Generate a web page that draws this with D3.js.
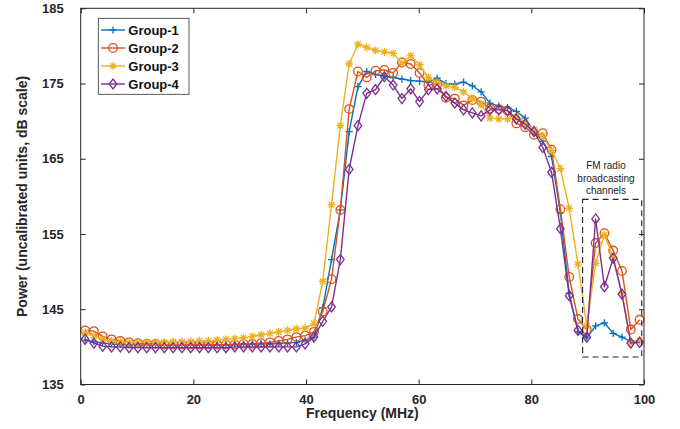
<!DOCTYPE html>
<html>
<head>
<meta charset="utf-8">
<script src="https://cdn.jsdelivr.net/npm/d3@7"></script>
<style>
    body { margin: 0; background: #fff; }
    .test_component { width: 680px; height: 429px; }
    text { font-family: "Liberation Sans", Arial, sans-serif; }
</style>
</head>
<body>
<div class="test_component"></div>
<script>
//<data>--------------------------------------//
var freq = [
    0.78, 2.34, 3.91, 5.47, 7.03, 8.59, 10.16, 11.72, 13.28, 14.84,
    16.41, 17.97, 19.53, 21.09, 22.66, 24.22, 25.78, 27.34, 28.91, 30.47,
    32.03, 33.59, 35.16, 36.72, 38.28, 39.84, 41.41, 42.97, 44.53, 46.09,
    47.66, 49.22, 50.78, 52.34, 53.91, 55.47, 57.03, 58.59, 60.16, 61.72,
    63.28, 64.84, 66.41, 67.97, 69.53, 71.09, 72.66, 74.22, 75.78, 77.34,
    78.91, 80.47, 82.03, 83.59, 85.16, 86.72, 88.28, 89.84, 91.41, 92.97,
    94.53, 96.09, 97.66, 99.22
];
var group1 = [
    140.9, 140.7, 140.5, 140.4, 140.3, 140.3, 140.3, 140.3, 140.3, 140.3,
    140.3, 140.3, 140.3, 140.3, 140.3, 140.3, 140.3, 140.3, 140.4, 140.4,
    140.4, 140.4, 140.5, 140.5, 140.6, 140.9, 141.3, 145.2, 151.6, 158.2,
    168.6, 174.6, 176.6, 176.2, 176.0, 175.8, 175.6, 175.4, 175.3, 175.2,
    175.7, 175.0, 174.9, 175.2, 174.7, 173.9, 172.4, 172.0, 171.8, 171.3,
    170.4, 168.6, 167.3, 165.3, 157.8, 147.1, 142.0, 141.2, 142.8, 143.2,
    141.8, 141.3, 140.7, 140.8
];
var group2 = [
    142.2, 142.1, 141.4, 141.0, 140.8, 140.6, 140.5, 140.4, 140.4, 140.3,
    140.3, 140.3, 140.3, 140.3, 140.3, 140.3, 140.3, 140.3, 140.4, 140.4,
    140.5, 140.6, 140.8, 141.0, 141.3, 141.5, 142.0, 144.7, 149.0, 158.2,
    171.6, 176.6, 175.8, 176.7, 176.8, 176.4, 177.8, 177.6, 176.4, 174.8,
    174.9, 173.1, 173.0, 172.1, 172.8, 172.6, 171.7, 171.6, 171.4, 169.7,
    169.2, 168.2, 168.4, 166.2, 158.3, 149.3, 143.7, 142.3, 153.8, 155.1,
    152.8, 150.1, 142.3, 143.6
];
var group3 = [
    141.9, 141.5, 141.0, 140.8, 140.7, 140.6, 140.6, 140.6, 140.6, 140.6,
    140.7, 140.7, 140.7, 140.8, 140.8, 140.9, 141.0, 141.1, 141.2, 141.4,
    141.6, 141.8, 142.0, 142.2, 142.4, 142.5, 143.1, 148.7, 158.9, 169.4,
    177.6, 180.2, 179.8, 179.4, 179.2, 179.0, 177.7, 178.7, 177.5, 175.8,
    175.2, 174.7, 174.5, 173.9, 173.0, 172.2, 170.4, 170.3, 170.3, 170.6,
    169.8, 168.9, 168.0, 166.1, 163.7, 158.4, 151.0, 142.8, 151.1, 154.9,
    151.9, 147.1, 140.5, 140.9
];
var group4 = [
    141.0, 140.5, 140.1, 140.0, 140.0, 139.9, 139.9, 139.9, 139.9, 139.9,
    139.9, 139.9, 139.9, 139.9, 139.9, 139.9, 139.9, 140.0, 140.0, 140.0,
    140.0, 140.0, 140.0, 140.0, 140.0, 140.4, 141.3, 143.4, 145.3, 151.6,
    163.6, 169.4, 173.7, 174.2, 175.9, 174.8, 173.0, 174.3, 172.6, 174.2,
    174.3, 173.3, 172.4, 171.5, 171.1, 170.7, 171.5, 171.5, 171.4, 170.3,
    169.6, 168.6, 166.5, 163.2, 155.7, 146.8, 142.2, 141.3, 157.0, 148.0,
    151.8, 147.0, 140.5, 140.6
];
var seriesNames = ["Group-1", "Group-2", "Group-3", "Group-4"];
var xTicks = [0, 20, 40, 60, 80, 100];
var yTicks = [135, 145, 155, 165, 175, 185];
var fmBox = { x0: 89.1, x1: 99.6, y0: 138.65, y1: 159.6 };
var fmLabel = ["FM radio", "broadcasting", "channels"];

var colorPalettes = ['#0072BD', '#D95319', '#EDB120', '#7E2F8E'];
var markerTypes = ['plus', 'circle', 'star', 'diamond'];

//<setMargin>-------------------------------//
var W = 680, H = 429;
var margin = { top: 8.3, right: 36, bottom: 44.5, left: 80.7 };
var width = W - margin.left - margin.right,
    height = H - margin.top - margin.bottom;

var svg = d3.select(".test_component").append("svg")
    .attr("width", W).attr("height", H);

var x = d3.scaleLinear().domain([0, 100]).range([margin.left, margin.left + width]);
var y = d3.scaleLinear().domain([135, 185]).range([margin.top + height, margin.top]);

//<markers>----------------------------------//
function markerPath(type) {
    if (type == 'plus') return "M-3.6,0H3.6M0,-3.6V3.6";
    if (type == 'star') return "M-4,0H4M0,-4V4M-2.9,-2.9L2.9,2.9M-2.9,2.9L2.9,-2.9";
    if (type == 'diamond') return "M0,-5L3.8,0L0,5L-3.8,0Z";
    return "M4.3,0A4.3,4.3 0 1,1 -4.3,0A4.3,4.3 0 1,1 4.3,0Z";
}

//<drawSeries>-------------------------------//
var allSeries = [group1, group2, group3, group4];
var line = d3.line()
    .x(function (d) { return x(d[0]); })
    .y(function (d) { return y(d[1]); });

var plotG = svg.append("g").attr("id", "plot");
allSeries.forEach(function (vals, i) {
    var pts = freq.map(function (f, k) { return [f, vals[k]]; });
    var g = plotG.append("g");
    g.append("path").datum(pts)
        .attr("d", line)
        .attr("fill", "none")
        .attr("stroke", colorPalettes[i])
        .attr("stroke-width", 1.4)
        .attr("stroke-linejoin", "round");
    g.selectAll(".mk").data(pts).enter()
        .append("path")
        .attr("transform", function (d) { return "translate(" + x(d[0]) + "," + y(d[1]) + ")"; })
        .attr("d", markerPath(markerTypes[i]))
        .attr("fill", "none")
        .attr("stroke", colorPalettes[i])
        .attr("stroke-width", 1.3);
});

//<fmBox>-------------------------------------//
svg.append("rect")
    .attr("x", x(fmBox.x0)).attr("y", y(fmBox.y1))
    .attr("width", x(fmBox.x1) - x(fmBox.x0))
    .attr("height", y(fmBox.y0) - y(fmBox.y1))
    .attr("fill", "none")
    .attr("stroke", "#222")
    .attr("stroke-width", 1.1)
    .attr("stroke-dasharray", "6,4");

svg.append("g").selectAll("text").data(fmLabel).enter()
    .append("text")
    .attr("x", 606)
    .attr("y", function (d, i) { return 169 + i * 12.5; })
    .attr("text-anchor", "middle")
    .style("font-size", "10px")
    .attr("fill", "#222")
    .text(function (d) { return d; });

//<axes>--------------------------------------//
var axisColor = "#262626";
function styleAxis(sel) {
    sel.select(".domain").remove();
    sel.selectAll("line").attr("stroke", axisColor);
    sel.selectAll("text").attr("fill", axisColor)
        .style("font-size", "13px").style("font-weight", "bold")
        .style("font-family", "'Liberation Sans', Arial, sans-serif");
}
var gx = svg.append("g").attr("transform", "translate(0," + (margin.top + height) + ")")
    .call(d3.axisBottom(x).tickValues(xTicks).tickSizeInner(-5).tickSizeOuter(0).tickPadding(10));
styleAxis(gx);
var gxTop = svg.append("g").attr("transform", "translate(0," + margin.top + ")")
    .call(d3.axisTop(x).tickValues(xTicks).tickSizeInner(-5).tickSizeOuter(0).tickFormat(""));
styleAxis(gxTop);
var gy = svg.append("g").attr("transform", "translate(" + margin.left + ",0)")
    .call(d3.axisLeft(y).tickValues(yTicks).tickSizeInner(-5).tickSizeOuter(0).tickPadding(17));
styleAxis(gy);
var gyR = svg.append("g").attr("transform", "translate(" + (margin.left + width) + ",0)")
    .call(d3.axisRight(y).tickValues(yTicks).tickSizeInner(-5).tickSizeOuter(0).tickFormat(""));
styleAxis(gyR);

svg.append("rect")
    .attr("x", margin.left).attr("y", margin.top)
    .attr("width", width).attr("height", height)
    .attr("fill", "none").attr("stroke", axisColor).attr("stroke-width", 1);

//<axisTitles>--------------------------------//
svg.append("text")
    .attr("x", margin.left + width / 2).attr("y", 418)
    .attr("text-anchor", "middle")
    .style("font-size", "14px").style("font-weight", "bold")
    .attr("fill", axisColor)
    .text("Frequency (MHz)");
svg.append("text")
    .attr("transform", "translate(27," + (margin.top + height / 2) + ") rotate(-90)")
    .attr("text-anchor", "middle")
    .style("font-size", "14px").style("font-weight", "bold")
    .attr("fill", axisColor)
    .text("Power (uncalibrated units, dB scale)");

//<legend>------------------------------------//
var leg = svg.append("g").attr("transform", "translate(98.3,18.3)");
leg.append("rect").attr("width", 90.7).attr("height", 76)
    .attr("fill", "#fff").attr("stroke", "#333").attr("stroke-width", 0.8);
seriesNames.forEach(function (name, i) {
    var cy = 11.7 + i * 18;
    leg.append("line").attr("x1", 2.7).attr("x2", 26.7).attr("y1", cy).attr("y2", cy)
        .attr("stroke", colorPalettes[i]).attr("stroke-width", 1.4);
    leg.append("path").attr("transform", "translate(14.7," + cy + ")")
        .attr("d", markerPath(markerTypes[i]))
        .attr("fill", "none").attr("stroke", colorPalettes[i]).attr("stroke-width", 1.3);
    leg.append("text").attr("x", 30).attr("y", cy + 4.6)
        .style("font-size", "13px").style("font-weight", "bold")
        .attr("fill", "#111")
        .text(name);
});
</script>
</body>
</html>
